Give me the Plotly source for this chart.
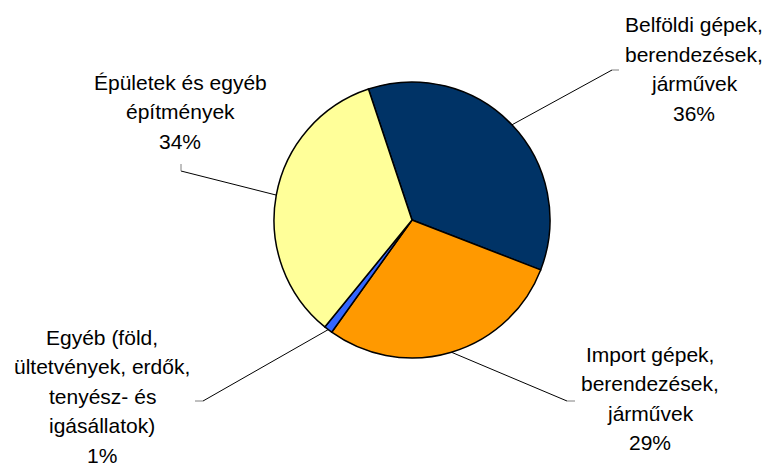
import math
import plotly.graph_objects as go

# ---- data ----
labels = ["Belföldi gépek, berendezések, járművek",
          "Import gépek, berendezések, járművek",
          "Egyéb (föld, ültetvények, erdők, tenyész- és igásállatok)",
          "Épületek és egyéb építmények"]
values = [36, 29, 1, 34]
label_lines = [
    ["Belföldi gépek,", "berendezések,", "járművek", "36%"],
    ["Import gépek,", "berendezések,", "járművek", "29%"],
    ["Egyéb (föld,", "ültetvények, erdők,", "tenyész- és", "igásállatok)", "1%"],
    ["Épületek és egyéb", "építmények", "34%"],
]
colors = ["#003366", "#FF9900", "#3366FF", "#FFFF99"]

# ---- layout constants (pixels) ----
W, H = 767, 466
CX, CY, R = 412, 220, 138
ROT = -18.4
# label block: center x, first line center y
label_pos = [(694, 25), (650, 354), (102, 337), (180, 82)]
LINE_H = 29.5
# leader line elbow and tick end
elbows = [((612, 70), (619, 70)),
          ((567, 401), (575, 401)),
          ((203, 401), (195, 401)),
          ((181, 171), (181, 164))]

def px(x):
    return x / W

def py(y):
    return 1 - y / H

fig = go.Figure(go.Pie(
    labels=labels, values=values, sort=False, direction="clockwise",
    rotation=ROT, marker=dict(colors=colors, line=dict(color="black", width=1.5)),
    textinfo="none", hoverinfo="label+percent", showlegend=False,
    domain=dict(x=[px(CX - R), px(CX + R)], y=[py(CY + R), py(CY - R)]),
))

total = sum(values)
cum = 0
shapes = []
annotations = []
for i, v in enumerate(values):
    mid = ROT + (cum + v / 2) / total * 360
    cum += v
    a = math.radians(mid)
    ex = CX + R * math.sin(a)
    ey = CY - R * math.cos(a)
    (bx, by), (tx, ty) = elbows[i]
    shapes.append(dict(type="line", xref="paper", yref="paper",
                       x0=px(ex), y0=py(ey), x1=px(bx), y1=py(by),
                       line=dict(color="black", width=1)))
    shapes.append(dict(type="line", xref="paper", yref="paper",
                       x0=px(bx), y0=py(by), x1=px(tx), y1=py(ty),
                       line=dict(color="#808080", width=1)))
    lx, ly = label_pos[i]
    for j, t in enumerate(label_lines[i]):
        annotations.append(dict(text=t, xref="paper", yref="paper",
                                x=px(lx), y=py(ly + j * LINE_H),
                                xanchor="center", yanchor="middle",
                                showarrow=False,
                                font=dict(family="Liberation Sans", size=21, color="black")))

fig.update_layout(width=W, height=H, margin=dict(l=0, r=0, t=0, b=0),
                  paper_bgcolor="white", plot_bgcolor="white",
                  shapes=shapes, annotations=annotations)
fig.write_html("out.html", config={"displayModeBar": False},
               post_script="document.body.style.margin='0';")
